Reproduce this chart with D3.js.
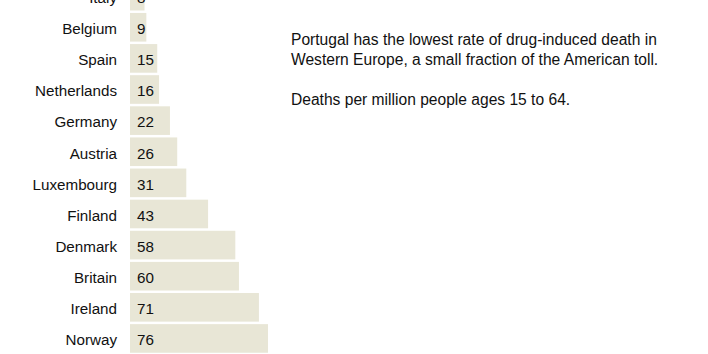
<!DOCTYPE html>
<html>
<head>
<meta charset="utf-8">
<script src="https://cdn.jsdelivr.net/npm/d3@7"></script>
<style>
  body { margin: 0; background: #fff; }
  svg { display: block; font-family: "Liberation Sans", Arial, sans-serif; }
</style>
</head>
<body>
<svg id="chart"></svg>
<script>
// countries, top to bottom (list is cut at the top in the picture)
const countries = ["Italy", "Belgium", "Spain", "Netherlands", "Germany", "Austria",
  "Luxembourg", "Finland", "Denmark", "Britain", "Ireland", "Norway"];
const deaths = [8, 9, 15, 16, 22, 26, 31, 43, 58, 60, 71, 76];

const noteLines = [
  "Portugal has the lowest rate of drug-induced death in",
  "Western Europe, a small fraction of the American toll."
];
const unitNote = "Deaths per million people ages 15 to 64.";

const width = 708, height = 354;
const barLeft = 130;

const svg = d3.select("#chart")
  .attr("width", width)
  .attr("height", height);

const rows = countries.map((c, i) => ({ country: c, value: deaths[i] }));

const x = d3.scaleLinear()
  .domain([0, 76])
  .range([0, 138]);

const y = d3.scaleBand()
  .domain(countries)
  .range([-19.4, 354])
  .paddingInner(0.08)
  .paddingOuter(0.04);

const g = svg.append("g");

const row = g.selectAll(".row")
  .data(rows)
  .enter().append("g")
  .attr("class", "row")
  .attr("transform", d => `translate(0, ${y(d.country)})`);

row.append("rect")
  .attr("x", barLeft)
  .attr("width", d => x(d.value))
  .attr("height", y.bandwidth())
  .attr("fill", "#e8e6d6");

row.append("text")
  .attr("x", 117)
  .attr("y", y.bandwidth() / 2 + 1.5)
  .attr("dy", "0.35em")
  .attr("text-anchor", "end")
  .attr("fill", "#111")
  .style("font-size", "15.2px")
  .text(d => d.country);

row.append("text")
  .attr("x", barLeft + 7)
  .attr("y", y.bandwidth() / 2 + 1.5)
  .attr("dy", "0.35em")
  .attr("fill", "#111")
  .style("font-size", "15.2px")
  .text(d => d.value);

// annotation on the right
const note = svg.append("g")
  .attr("transform", "translate(291, 0)")
  .attr("fill", "#111")
  .style("font-size", "15.6px");

note.selectAll("text.line")
  .data(noteLines)
  .enter().append("text")
  .attr("class", "line")
  .attr("y", (d, i) => 45 + i * 20)
  .text(d => d);

note.append("text")
  .attr("y", 105)
  .text(unitNote);
</script>
</body>
</html>
